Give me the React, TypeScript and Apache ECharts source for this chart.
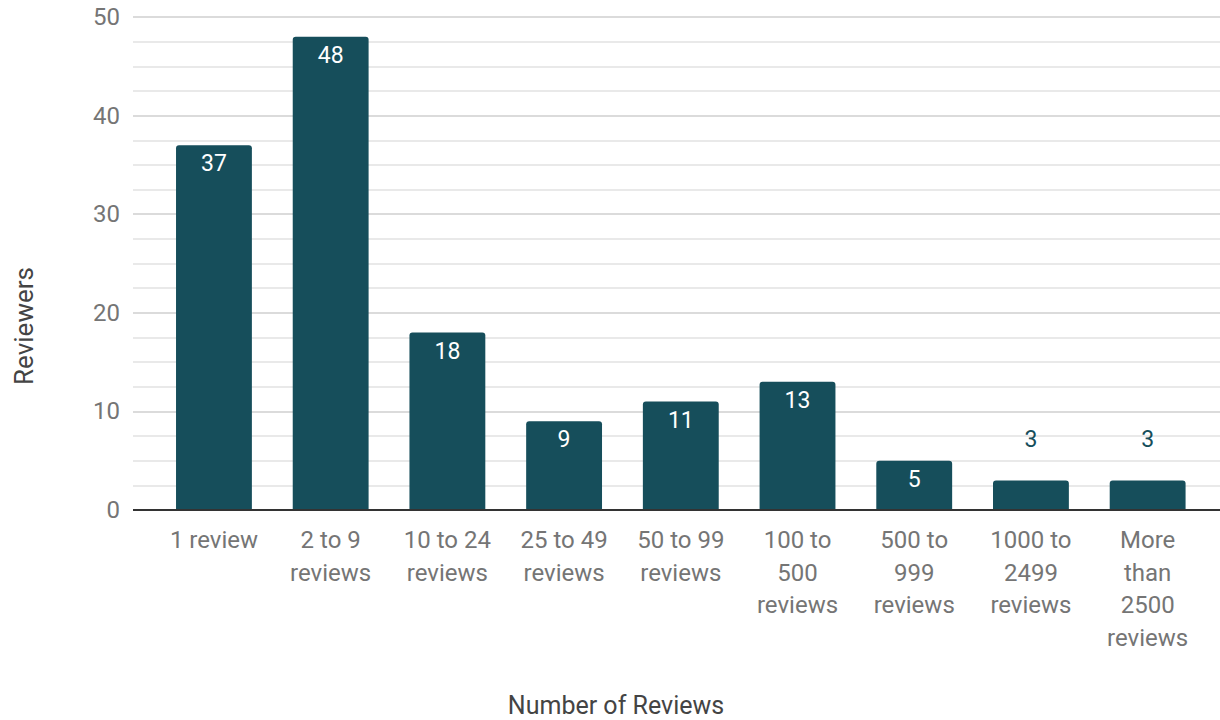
import React, { useEffect, useRef } from "react";
import * as echarts from "echarts";

const categories = [
  "1 review",
  "2 to 9\nreviews",
  "10 to 24\nreviews",
  "25 to 49\nreviews",
  "50 to 99\nreviews",
  "100 to\n500\nreviews",
  "500 to\n999\nreviews",
  "1000 to\n2499\nreviews",
  "More\nthan\n2500\nreviews",
];
const reviewers = [37, 48, 18, 9, 11, 13, 5, 3, 3];
const yMin = 0;
const yMax = 50;
const yInterval = 10;
const xTitle = "Number of Reviews";
const yTitle = "Reviewers";

const BAR = "#164e5b";
const FONT = "Roboto, 'Noto Sans', sans-serif";

export default function App() {
  const ref = useRef<HTMLDivElement>(null);
  useEffect(() => {
    if (!ref.current) return;
    const chart = echarts.init(ref.current, undefined, { renderer: "svg" });
    chart.setOption({
      animation: false,
      backgroundColor: "#ffffff",
      textStyle: { fontFamily: FONT },
      grid: [
        { left: 133, right: 0, top: 17, bottom: 210, outerBoundsMode: "none", containLabel: false },
        { left: 155.6, right: 14, top: 17, bottom: 210, outerBoundsMode: "none", containLabel: false },
      ],
      graphic: [
        {
          type: "text",
          x: 24,
          y: 326,
          rotation: Math.PI / 2,
          style: {
            text: yTitle,
            fill: "#444444",
            font: `26px ${FONT}`,
            align: "center",
            verticalAlign: "middle",
          },
        },
        {
          type: "text",
          x: 616,
          y: 705,
          style: {
            text: xTitle,
            fill: "#444444",
            font: `25px ${FONT}`,
            align: "center",
            verticalAlign: "middle",
          },
        },
      ],
      xAxis: [
        {
          gridIndex: 0,
          type: "value",
          min: 0,
          max: 1,
          show: false,
        },
        {
          gridIndex: 1,
          type: "category",
          data: categories,
          axisLine: { show: false },
          axisTick: { show: false },
          axisLabel: {
            color: "#757575",
            fontSize: 24,
            lineHeight: 32.5,
            margin: 14,
            interval: 0,
            fontFamily: FONT,
            verticalAlign: "top",
          },
        },
      ],
      yAxis: [
        {
          gridIndex: 0,
          type: "value",
          min: yMin,
          max: yMax,
          interval: yInterval,
          axisLine: { show: false },
          axisTick: { show: false },
          axisLabel: { color: "#757575", fontSize: 24, margin: 13, fontFamily: FONT },
          splitLine: { show: true, lineStyle: { color: "#cfcfcf", width: 1.5 } },
          minorTick: { show: false, splitNumber: 4 },
          minorSplitLine: { show: true, lineStyle: { color: "#e2e2e2", width: 1.5 } },
        },
        {
          gridIndex: 1,
          type: "value",
          min: yMin,
          max: yMax,
          interval: yInterval,
          show: false,
        },
      ],
      series: [
        {
          type: "line",
          xAxisIndex: 0,
          yAxisIndex: 0,
          data: [
            [0, 0],
            [1, 0],
          ],
          symbol: "none",
          lineStyle: { color: "#333333", width: 2 },
          silent: true,
          z: 5,
        },
        {
          type: "bar",
          xAxisIndex: 1,
          yAxisIndex: 1,
          barWidth: "65%",
          data: reviewers.map((v) =>
            v <= 3
              ? {
                  value: v,
                  label: {
                    position: "top",
                    distance: 29,
                    color: BAR,
                  },
                }
              : v
          ),
          itemStyle: { color: BAR, borderRadius: [3, 3, 0, 0] },
          label: {
            show: true,
            position: "insideTop",
            distance: 7,
            color: "#ffffff",
            fontSize: 23,
            fontFamily: FONT,
          },
          z: 3,
        },
      ],
    });
    return () => chart.dispose();
  }, []);
  return <div ref={ref} style={{ width: 1220, height: 720, position: "absolute", left: 0, top: 0 }} />;
}
